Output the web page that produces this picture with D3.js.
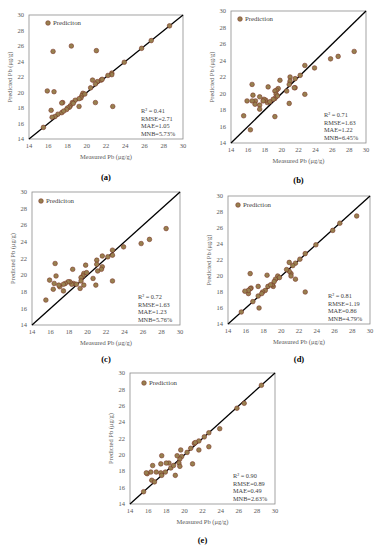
<!DOCTYPE html>
<html>
<head>
<meta charset="utf-8">
<script src="https://cdn.jsdelivr.net/npm/d3@7"></script>
<style>
body { margin: 0; background: #fff; }
text { font-family: "Liberation Serif", "Times New Roman", serif; }
</style>
</head>
<body>
<div id="chart"></div>
<script>
// data: [measured, predicted] per panel
var ticks = [14, 16, 18, 20, 22, 24, 26, 28, 30];

var ptsA = [[28.6,28.6],[26.7,26.7],[25.7,25.7],[23.9,23.9],[22.6,22.5],[22.6,22.3],[22.7,18.2],
  [21.5,21.6],[21.1,21.4],[20.6,21.6],[20.9,21.1],[20.4,20.6],[21.0,25.4],[18.4,26.0],[16.5,25.3],
  [15.9,20.2],[16.6,20.1],[19.6,19.9],[19.5,19.6],[19.4,19.3],[19.2,19.2],[19.2,18.2],[18.8,19.0],
  [18.5,18.7],[18.3,18.3],[18.2,18.1],[18.0,18.0],[17.9,17.8],[17.5,18.7],[17.4,18.65],[17.4,17.4],
  [17.0,17.2],[16.7,16.9],[16.4,16.8],[16.3,17.7],[15.5,15.5],[20.9,18.7],[22.2,22.2],[21.6,21.7],
  [19.8,19.8],[18.6,18.6],[17.6,17.6]];

var ptsB = [[28.6,25.1],[26.7,24.5],[25.8,24.2],[23.9,23.1],[22.75,23.4],[22.75,19.9],[22.2,22.2],
  [21.6,21.8],[21.6,20.7],[21.5,20.7],[21.0,22.0],[21.0,21.5],[20.9,21.1],[20.9,18.8],[20.6,20.3],
  [19.8,21.6],[19.6,20.6],[19.4,20.4],[19.2,20.3],[19.35,19.9],[19.2,19.4],[19.0,19.3],[19.2,17.2],
  [18.4,20.8],[18.3,18.9],[18.1,19.2],[17.9,19.3],[17.8,19.1],[17.4,19.6],[17.4,18.6],[17.4,18.1],
  [16.9,19.1],[16.85,18.7],[16.6,19.8],[16.5,21.1],[16.5,19.1],[15.9,19.1],[15.5,17.3],[16.3,15.6],
  [19.5,19.7],[18.6,19.0]];

var ptsC = [[28.5,25.6],[26.7,24.3],[25.8,23.8],[23.9,23.4],[22.7,23.0],[22.7,22.4],[22.7,19.3],
  [22.2,22.2],[21.6,22.3],[21.6,21.0],[21.5,20.7],[21.0,21.8],[21.0,21.3],[21.1,20.5],[20.9,18.8],
  [20.6,19.6],[19.8,21.2],[19.6,20.2],[19.5,19.9],[19.6,18.8],[19.3,19.7],[19.3,19.3],[19.2,18.4],
  [18.4,20.7],[18.5,19.0],[18.3,18.9],[18.1,19.2],[17.9,19.2],[17.6,19.0],[17.4,18.9],[17.4,18.1],
  [17.0,18.6],[16.9,18.8],[16.6,19.9],[16.5,21.4],[16.4,19.0],[16.3,18.3],[15.9,19.4],[15.5,17.0],
  [18.8,18.9],[19.9,20.3]];

var ptsD = [[28.5,27.5],[26.6,26.6],[25.8,25.7],[23.9,23.9],[22.7,22.8],[22.7,18.0],[22.1,22.1],
  [21.6,21.6],[21.6,19.6],[21.1,20.3],[21.1,20.0],[20.9,21.7],[20.9,20.6],[20.6,20.8],[19.6,20.0],
  [19.35,19.6],[19.1,18.7],[19.0,18.9],[18.4,20.1],[18.5,18.7],[18.2,18.2],[17.9,18.0],[17.4,18.7],
  [17.4,17.5],[17.5,16.0],[16.8,16.8],[16.6,18.5],[16.5,18.4],[16.5,20.3],[16.3,17.8],[16.3,18.2],
  [15.9,18.1],[15.5,15.5],[19.8,19.8],[19.2,19.3],[18.8,18.9],[17.8,17.8],[21.3,21.3]];

var ptsE = [[28.5,28.5],[26.6,26.3],[25.8,25.7],[23.9,23.2],[22.7,22.7],[22.7,21.0],[22.2,22.2],
  [21.6,21.7],[21.6,20.6],[21.1,21.4],[21.2,21.5],[20.9,18.9],[20.7,20.8],[19.6,20.6],[19.7,19.8],
  [19.5,19.5],[19.4,19.0],[19.5,18.6],[19.2,19.9],[19.0,17.5],[18.5,18.4],[18.3,19.0],[18.0,19.0],
  [17.9,17.9],[17.5,19.9],[17.4,18.9],[17.4,17.8],[17.5,17.5],[16.9,17.9],[16.5,18.7],[16.3,17.9],
  [16.4,16.9],[16.7,16.7],[15.9,17.7],[15.8,17.8],[15.5,15.5],[18.8,18.7],[20.3,20.3]];

var panels = [
  {id: "(a)", pts: ptsA, stats: ["R\u00b2 = 0.41", "RMSE=2.71", "MAE=1.05", "MNB=5.73%"], legend: "Prediciton",
   x0: 29, x1: 183, y0: 15, y1: 139, lx: 19, ly: 8, pl: 41},
  {id: "(b)", pts: ptsB, stats: ["R\u00b2 = 0.71", "RMSE=1.63", "MAE=1.22", "MNB=6.45%"], legend: "Prediction",
   x0: 231, x1: 366, y0: 11, y1: 143, lx: 9, ly: 8, pl: 40},
  {id: "(c)", pts: ptsC, stats: ["R\u00b2 = 0.72", "RMSE=1.63", "MAE=1.23", "MNB=5.76%"], legend: "Prediciton",
   x0: 32, x1: 180, y0: 192, y1: 325, lx: 9, ly: 9, pl: 37},
  {id: "(d)", pts: ptsD, stats: ["R\u00b2 = 0.81", "RMSE=1.19", "MAE=0.86", "MNB=4.79%"], legend: "Prediction",
   x0: 228, x1: 370, y0: 196, y1: 324, lx: 10, ly: 9, pl: 38},
  {id: "(e)", pts: ptsE, stats: ["R\u00b2 = 0.90", "RMSE=0.89", "MAE=0.49", "MNB=2.63%"], legend: "Prediction",
   x0: 130, x1: 275, y0: 373, y1: 504, lx: 14, ly: 10, pl: 39}
];

var svg = d3.select("#chart").append("svg")
  .attr("width", 381).attr("height", 550)
  .style("background", "#fff");

var fill = "#98804f", edge = "#7a3528";

panels.forEach(function(p){
  var x = d3.scaleLinear().domain([14, 30]).range([p.x0, p.x1]);
  var y = d3.scaleLinear().domain([14, 30]).range([p.y1, p.y0]);
  var g = svg.append("g");

  g.append("rect")
    .attr("x", p.x0).attr("y", p.y0)
    .attr("width", p.x1 - p.x0).attr("height", p.y1 - p.y0)
    .attr("fill", "none").attr("stroke", "#8c8c8c").attr("stroke-width", 0.8);

  // tick labels
  g.selectAll(".xt").data(ticks).enter().append("text")
    .attr("x", function(d){ return x(d); }).attr("y", p.y1 + 9)
    .attr("text-anchor", "middle").attr("font-size", 6.5).attr("fill", "#595959")
    .text(function(d){ return d; });
  g.selectAll(".yt").data(ticks).enter().append("text")
    .attr("x", p.x0 - 5).attr("y", function(d){ return y(d) + 2.2; })
    .attr("text-anchor", "end").attr("font-size", 6.5).attr("fill", "#595959")
    .text(function(d){ return d; });

  g.append("text")
    .attr("x", (p.x0 + p.x1) / 2).attr("y", p.y1 + 20)
    .attr("text-anchor", "middle").attr("font-size", 6.5).attr("fill", "#595959")
    .text("Measured Pb (\u03bcg/g)");
  g.append("text")
    .attr("transform", "translate(" + (p.x0 - 17) + "," + ((p.y0 + p.y1) / 2) + ") rotate(-90)")
    .attr("text-anchor", "middle").attr("font-size", 6.5).attr("fill", "#595959")
    .text("Predicted Pb (\u03bcg/g)");

  // 1:1 line
  g.append("line")
    .attr("x1", x(14)).attr("y1", y(14)).attr("x2", x(30)).attr("y2", y(30))
    .attr("stroke", "#000").attr("stroke-width", 1.3);

  g.selectAll("circle.pt").data(p.pts).enter().append("circle")
    .attr("class", "pt")
    .attr("cx", function(d){ return x(d[0]); })
    .attr("cy", function(d){ return y(d[1]); })
    .attr("r", 2.3)
    .attr("fill", fill).attr("stroke", edge).attr("stroke-width", 0.6);

  // legend
  g.append("circle")
    .attr("cx", p.x0 + p.lx).attr("cy", p.y0 + p.ly).attr("r", 2.3)
    .attr("fill", fill).attr("stroke", edge).attr("stroke-width", 0.6);
  g.append("text")
    .attr("x", p.x0 + p.lx + 5).attr("y", p.y0 + p.ly + 2.3)
    .attr("font-size", 6.8).attr("fill", "#404040")
    .text(p.legend);

  // stats
  g.selectAll(".st").data(p.stats).enter().append("text")
    .attr("x", p.x1 - 42)
    .attr("y", function(d, i){ return p.y1 - 3 - (3 - i) * 7.6; })
    .attr("font-size", 6.3).attr("fill", "#404040")
    .text(function(d){ return d; });

  g.append("text")
    .attr("x", (p.x0 + p.x1) / 2).attr("y", p.y1 + p.pl)
    .attr("text-anchor", "middle").attr("font-size", 8.5).attr("font-weight", "bold")
    .attr("fill", "#000")
    .text(p.id);
});
</script>
</body>
</html>
